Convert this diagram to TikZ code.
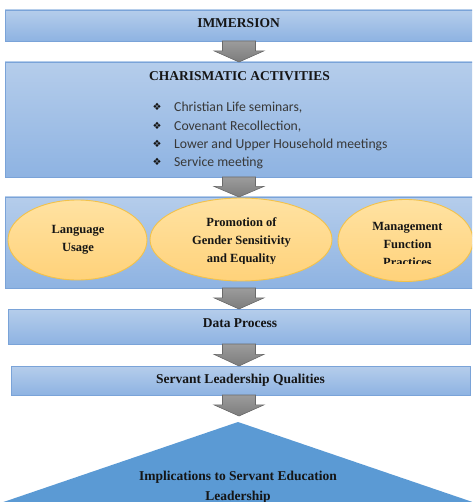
\documentclass[tikz,border=0pt]{standalone}
\usepackage{fontspec}
\setmainfont{Liberation Serif}
\newfontfamily\bodyfont{Carlito}
\newfontfamily\symfont{DejaVu Sans}
\usetikzlibrary{calc,shapes.geometric}

\definecolor{boxtop}{HTML}{B5CDEB}
\definecolor{boxbot}{HTML}{8EB3E2}
\definecolor{boxline}{HTML}{7AA3D8}
\definecolor{ovaltop}{HTML}{FFE2A2}
\definecolor{ovalbot}{HTML}{FFD27A}
\definecolor{ovalline}{HTML}{F3C24A}
\definecolor{arrtop}{HTML}{9C9C9C}
\definecolor{arrbot}{HTML}{7C7C7C}
\definecolor{arrline}{HTML}{6A6A6A}
\definecolor{pyramid}{HTML}{5B9AD4}
\definecolor{ink}{HTML}{151515}

% block arrow between the bottom of one stage and the top of the next
\newcommand\flowarrow[2]{%
  \draw[flow] let \p1=(#1), \p2=(#2), \p3=($(\p1)!0.47!(\p2)$) in
    (222.5pt,\y1) -- (255.5pt,\y1) -- (255.5pt,\y3) -- (264pt,\y3)
    -- (239pt,\y2) -- (214pt,\y3) -- (222.5pt,\y3) -- cycle;}

\begin{document}
\begin{tikzpicture}[x=1pt,y=-1pt,
  stage/.style={rectangle, draw=boxline, line width=0.8pt,
    top color=boxtop, bottom color=boxbot, inner sep=0pt, outer sep=0pt,
    anchor=north west},
  oval/.style={ellipse, draw=ovalline, line width=0.9pt,
    top color=ovaltop, bottom color=ovalbot, inner sep=0pt, outer sep=0pt},
  flow/.style={draw=arrline, line width=0.6pt, top color=arrtop, bottom color=arrbot},
  heading/.style={text=ink, inner sep=0pt, anchor=base,
    font=\fontsize{13.5}{16}\selectfont\bfseries},
  ovaltext/.style={text=ink, inner sep=0pt, align=center,
    font=\fontsize{12.5}{18}\selectfont\bfseries},
  item/.style={text=ink!85, inner sep=0pt, anchor=base west,
    font=\bodyfont\fontsize{13.7}{16}\selectfont},
  bulletmark/.style={text=ink, inner sep=0pt, anchor=base,
    font=\symfont\fontsize{10}{12}\selectfont}
]
\useasboundingbox (0,0) rectangle (472,502);
\clip (0,0) rectangle (472,502);

% stages
\node[stage, minimum width=475pt, minimum height=31pt]  (imm) at (5,10)  {};
\node[stage, minimum width=475pt, minimum height=115pt] (cha) at (5,62)  {};
\node[stage, minimum width=475pt, minimum height=91pt]  (cat) at (5,197) {};
\node[stage, minimum width=462pt, minimum height=35pt]  (dat) at (8,309) {};
\node[stage, minimum width=459pt, minimum height=29pt]  (slq) at (11,366) {};

% closing pyramid
\coordinate (apex) at (238,422);
\coordinate (tip) at (239,416);
\fill[pyramid] (apex) -- (-20,510) -- (496,510) -- cycle;

% arrows
\flowarrow{imm.south}{cha.north}
\flowarrow{cha.south}{cat.north}
\flowarrow{cat.south}{dat.north}
\flowarrow{dat.south}{slq.north}
\flowarrow{slq.south}{tip}

% titles
\node[heading] (immt) at (238.5,28) {IMMERSION};
\node[heading] (chat) at (239.5,81) {CHARISMATIC ACTIVITIES};
\node[heading] (datt) at (240,327) {Data Process};
\node[heading] (slqt) at (240.5,383.5) {Servant Leadership Qualities};
\node[heading] (impa) at (238,480) {Implications to Servant Education};
\node[heading] (impb) at (238,500) {Leadership};

% activities list
\node[bulletmark] (m1) at (157,111) {❖};
\node[bulletmark] (m2) at (157,129.2) {❖};
\node[bulletmark] (m3) at (157,147.4) {❖};
\node[bulletmark] (m4) at (157,165.6) {❖};
\node[item] (i1) at (174,112) {Christian Life seminars,};
\node[item] (i2) at (174,130.2) {Covenant Recollection,};
\node[item] (i3) at (174,148.4) {Lower and Upper Household meetings};
\node[item] (i4) at (174,166.6) {Service meeting};

% focus areas
\node[oval, minimum width=139pt, minimum height=80pt] (lang) at (77.5,240) {};
\node[oval, minimum width=182pt, minimum height=83pt] (gend) at (241,239.5) {};
\node[oval, minimum width=135pt, minimum height=82pt] (mgmt) at (405.5,240.5) {};
\begin{scope}
  \clip (0,190) rectangle (472,263.5);
  \node[ovaltext] (langt) at (78,239.5) {Language\\Usage};
  \node[ovaltext] (gendt) at (241.5,241) {Promotion of\\Gender Sensitivity\\and Equality};
  \node[ovaltext] (mgmtt) at (407.5,244.5) {Management\\Function\\Practices};
\end{scope}
\end{tikzpicture}
\end{document}
